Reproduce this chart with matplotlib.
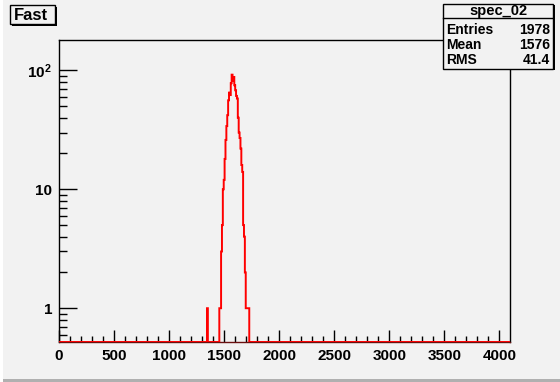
import numpy as np
import matplotlib
matplotlib.use("Agg")
import matplotlib.pyplot as plt
from matplotlib.patches import Rectangle
from matplotlib.lines import Line2D

# ---- data ----
bin_width = 8
x_max = 4096
first_bin_lo = 1344
counts_region = [1, 0, 0, 0, 0, 0, 0, 0, 0, 0, 0, 0, 0, 0, 1, 1, 3, 5, 10, 12,
                 18, 26, 34, 42, 56, 65, 62, 78, 92, 82, 88, 75, 68, 61, 58, 40,
                 30, 27, 22, 16, 14, 5, 4, 2, 1, 1, 1, 1]
x_ticks = [0, 500, 1000, 1500, 2000, 2500, 3000, 3500, 4000]
y_min, y_max = 0.52, 180
title = "Fast"
stats_name = "spec_02"
stats_labels = ["Entries", "Mean", "RMS"]
stats_values = ["1978", "1576", "41.4"]

bg = "#f2f2f2"
plt.rcParams['font.family'] = ['Liberation Sans', 'DejaVu Sans']
plt.rcParams['mathtext.fontset'] = 'custom'
plt.rcParams['mathtext.rm'] = 'Liberation Sans:bold'
plt.rcParams['mathtext.bf'] = 'Liberation Sans:bold'
plt.rcParams['mathtext.it'] = 'Liberation Sans:bold'

fig = plt.figure(figsize=(5.6, 3.82), dpi=100, facecolor=bg)
W, H = 560, 382
def fx(px): return px / W
def fy(py): return 1 - py / H

ax = fig.add_axes([fx(59), fy(342), (510 - 59) / W, (342 - 40) / H])
ax.set_facecolor(bg)

edges = np.arange(0, x_max + bin_width, bin_width)
counts = np.zeros(len(edges) - 1)
i0 = first_bin_lo // bin_width
counts[i0:i0 + len(counts_region)] = counts_region
vals = np.where(counts > 0, counts, y_min)
ax.set_yscale('log')
ax.stairs(vals, edges, baseline=y_min, color='#ff0000', lw=1.4, zorder=3)
ax.set_xlim(0, x_max)
ax.set_ylim(y_min, y_max)

for s in ax.spines.values():
    s.set_color('black')
    s.set_linewidth(1.0)
ax.spines['bottom'].set_color('#6a1010')

ax.set_xticks(x_ticks)
ax.set_xticks(np.arange(0, x_max, 100), minor=True)
ax.tick_params(axis='x', which='major', direction='in', length=9, width=1,
               labelsize=11, pad=5, top=False)
ax.tick_params(axis='x', which='minor', direction='in', length=4.5, width=1, top=False)
ax.set_xticklabels([str(v) for v in x_ticks], fontweight='bold')

ax.set_yticks([1, 10, 100])
ax.set_yticklabels(['1', '10', r'$\mathrm{10^{2}}$'], fontweight='bold')
minor_y = [v * d for d in (0.1, 1, 10) for v in range(2, 10)]
minor_y = [m for m in minor_y if y_min <= m <= y_max]
ax.set_yticks(minor_y, minor=True)
ax.yaxis.set_minor_formatter(matplotlib.ticker.NullFormatter())
ax.tick_params(axis='y', which='major', direction='in', length=13, width=1,
               labelsize=11, pad=5, right=False)
ax.tick_params(axis='y', which='minor', direction='in', length=6, width=1, right=False)

# ---- canvas border ----
fig.add_artist(Rectangle((0, 0), 1, 3 / H, transform=fig.transFigure,
                         facecolor='#b0b0b0', edgecolor='none'))
fig.add_artist(Rectangle((0, 0), 3 / W, 1, transform=fig.transFigure,
                         facecolor='white', edgecolor='none'))

# ---- title box ----
fig.add_artist(Rectangle((fx(12), fy(26)), 45 / W, 19 / H, transform=fig.transFigure,
                         facecolor='black', edgecolor='none', zorder=5))
fig.add_artist(Rectangle((fx(10), fy(24)), 45 / W, 19 / H, transform=fig.transFigure,
                         facecolor=bg, edgecolor='black', lw=1, zorder=6))
fig.text(fx(31), fy(15), title, ha='center', va='center', fontsize=12,
         fontweight='bold', zorder=7)

# ---- stats box ----
bx0, bx1, by0, by1 = 443, 553, 4, 69
fig.add_artist(Rectangle((fx(bx0 + 2), fy(by1 + 1)), (bx1 - bx0) / W, (by1 - by0) / H,
                         transform=fig.transFigure, facecolor='black',
                         edgecolor='none', zorder=5))
fig.add_artist(Rectangle((fx(bx0), fy(by1)), (bx1 - bx0) / W, (by1 - by0) / H,
                         transform=fig.transFigure, facecolor=bg,
                         edgecolor='black', lw=1, zorder=6))
fig.add_artist(Line2D([fx(bx0), fx(bx1)], [fy(18), fy(18)], transform=fig.transFigure,
                      color='black', lw=1, zorder=7))
fig.text(fx((bx0 + bx1) / 2), fy(11), stats_name, ha='center', va='center',
         fontsize=10.5, fontweight='bold', zorder=8)
for k, (lab, val) in enumerate(zip(stats_labels, stats_values)):
    yy = fy(29.5 + k * 15.5)
    fig.text(fx(bx0 + 3), yy, lab, ha='left', va='center', fontsize=10,
             fontweight='bold', zorder=8)
    fig.text(fx(bx1 - 3), yy, val, ha='right', va='center', fontsize=10,
             fontweight='bold', zorder=8)

fig.savefig("out.png", dpi=100, facecolor=bg)
